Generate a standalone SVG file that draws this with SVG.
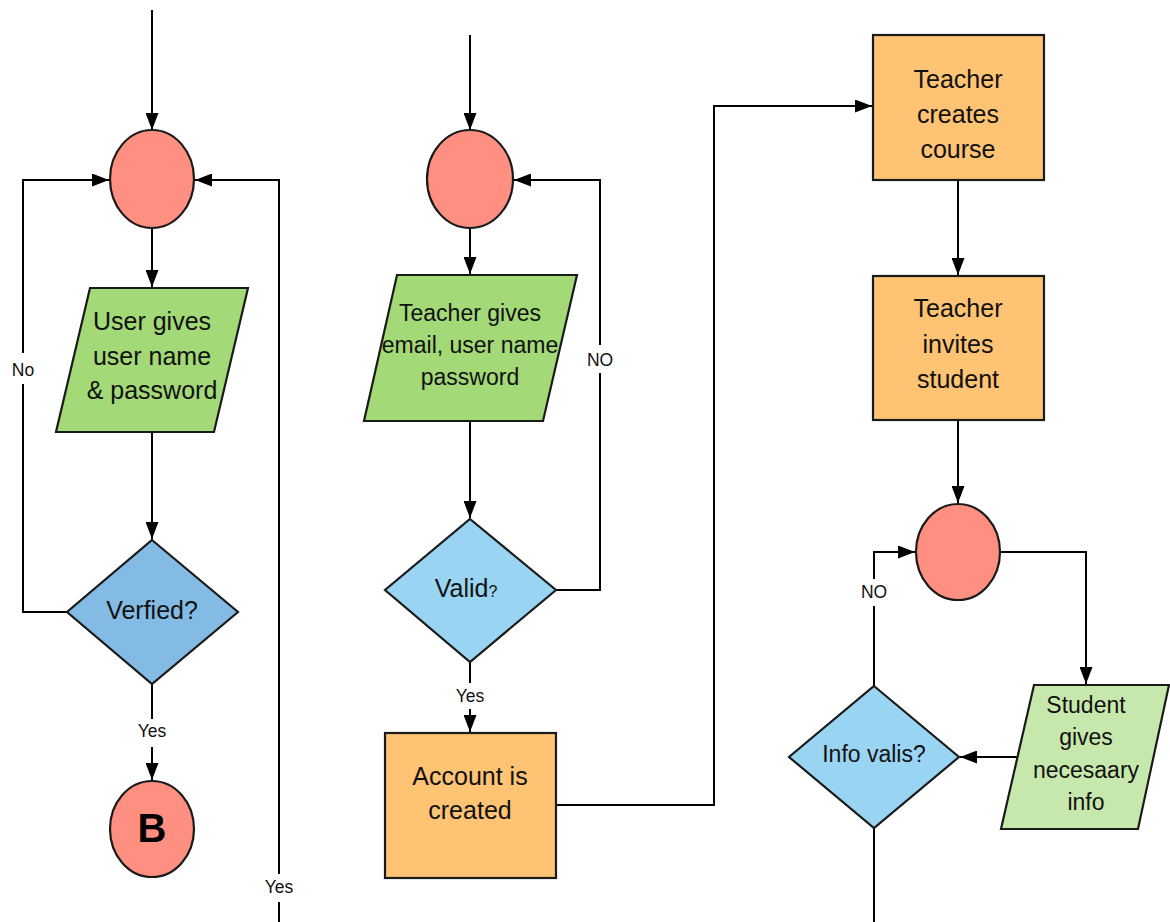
<svg xmlns="http://www.w3.org/2000/svg" width="1170" height="922" viewBox="0 0 1170 922">
  <style>
    .edge { fill: none; stroke: #000; stroke-width: 2; }
    .shape { stroke: #1a1a1a; stroke-width: 2.2; }
    .join { fill: #ff8f80; }
    .input { fill: #a3d977; }
    .input2 { fill: #c7e8ac; }
    .step { fill: #ffc374; }
    .check { fill: #83bbe5; }
    .check2 { fill: #99d5f2; }
    text { font-family: "Liberation Sans", Arial, sans-serif; fill: #111; text-anchor: middle; }
    .t25 { font-size: 25px; }
    .t23 { font-size: 23px; }
    .lbl { font-size: 17.5px; }
    .gap { fill: #fff; }
  </style>
  <defs>
    <marker id="arrow" markerUnits="userSpaceOnUse" markerWidth="17" markerHeight="13" refX="17" refY="6.5" orient="auto">
      <path d="M0,0 L17,6.5 L0,13 z" fill="#000"/>
    </marker>
  </defs>

  <!-- connectors -->
  <g id="connectors">
    <!-- left flow -->
    <path class="edge" d="M152,10 V130" marker-end="url(#arrow)"/>
    <path class="edge" d="M152,228 V287" marker-end="url(#arrow)"/>
    <path class="edge" d="M152,432 V539" marker-end="url(#arrow)"/>
    <path class="edge" d="M67,612 H23 V180 H109" marker-end="url(#arrow)"/>
    <path class="edge" d="M152,684 V780" marker-end="url(#arrow)"/>
    <path class="edge" d="M279,922 V180 H195" marker-end="url(#arrow)"/>
    <!-- middle flow -->
    <path class="edge" d="M470,35 V130" marker-end="url(#arrow)"/>
    <path class="edge" d="M470,228 V274" marker-end="url(#arrow)"/>
    <path class="edge" d="M470,421 V518" marker-end="url(#arrow)"/>
    <path class="edge" d="M556,590 H600 V180 H514" marker-end="url(#arrow)"/>
    <path class="edge" d="M470,662 V732" marker-end="url(#arrow)"/>
    <path class="edge" d="M556,805 H714 V106 H872" marker-end="url(#arrow)"/>
    <!-- right flow -->
    <path class="edge" d="M958,180 V275" marker-end="url(#arrow)"/>
    <path class="edge" d="M958,420 V503" marker-end="url(#arrow)"/>
    <path class="edge" d="M1001,552 H1086 V684" marker-end="url(#arrow)"/>
    <path class="edge" d="M1017,757 H960" marker-end="url(#arrow)"/>
    <path class="edge" d="M874,686 V552 H915" marker-end="url(#arrow)"/>
    <path class="edge" d="M874,828 V922"/>

    <!-- edge labels -->
    <rect class="gap" x="10" y="353" width="26" height="31"/>
    <text class="lbl" x="23" y="376">No</text>
    <rect class="gap" x="136" y="719" width="32" height="28"/>
    <text class="lbl" x="152" y="737">Yes</text>
    <rect class="gap" x="263" y="874" width="32" height="28"/>
    <text class="lbl" x="279" y="893">Yes</text>
    <rect class="gap" x="586" y="345" width="28" height="28"/>
    <text class="lbl" x="600" y="366">NO</text>
    <rect class="gap" x="454" y="683" width="32" height="26"/>
    <text class="lbl" x="470" y="702">Yes</text>
    <rect class="gap" x="860" y="579" width="28" height="27"/>
    <text class="lbl" x="874" y="598">NO</text>
  </g>

  <!-- left column -->
  <g id="join-left">
    <ellipse class="shape join" cx="152" cy="179" rx="42" ry="49"/>
  </g>
  <g id="user-login">
    <polygon class="shape input" points="90,288 248,288 214,432 56,432"/>
    <text class="t25" x="152" y="330">User gives</text>
    <text class="t25" x="152" y="365">user name</text>
    <text class="t25" x="152" y="399">&amp; password</text>
  </g>
  <g id="verified">
    <polygon class="shape check" points="152,540 238,612 152,684 67,612"/>
    <text class="t25" x="152" y="619">Verfied?</text>
  </g>
  <g id="connector-b">
    <ellipse class="shape join" cx="152" cy="829" rx="42" ry="48"/>
    <text x="152" y="842" style="font-size:40px;font-weight:bold;fill:#000">B</text>
  </g>

  <!-- middle column -->
  <g id="join-middle">
    <ellipse class="shape join" cx="470" cy="179" rx="43" ry="49"/>
  </g>
  <g id="teacher-signup">
    <polygon class="shape input" points="397,275 577,275 543,421 364,421"/>
    <text class="t23" x="470" y="321">Teacher gives</text>
    <text class="t23" x="470" y="353">email, user name</text>
    <text class="t23" x="470" y="385">password</text>
  </g>
  <g id="valid">
    <polygon class="shape check2" points="470,519 556,590 470,662 385,590"/>
    <text class="t25" x="466" y="597">Valid<tspan style="font-size:16px">?</tspan></text>
  </g>
  <g id="account-created">
    <rect class="shape step" x="385" y="733" width="171" height="145"/>
    <text class="t25" x="470" y="785">Account is</text>
    <text class="t25" x="470" y="819">created</text>
  </g>

  <!-- right column -->
  <g id="create-course">
    <rect class="shape step" x="873" y="35" width="171" height="145"/>
    <text class="t25" x="958" y="88">Teacher</text>
    <text class="t25" x="958" y="123">creates</text>
    <text class="t25" x="958" y="158">course</text>
  </g>
  <g id="invite-student">
    <rect class="shape step" x="873" y="276" width="171" height="144"/>
    <text class="t25" x="958" y="317">Teacher</text>
    <text class="t25" x="958" y="353">invites</text>
    <text class="t25" x="958" y="388">student</text>
  </g>
  <g id="join-right">
    <ellipse class="shape join" cx="958" cy="552" rx="42" ry="48"/>
  </g>
  <g id="student-info">
    <polygon class="shape input2" points="1034,685 1169,685 1138,829 1001,829"/>
    <text class="t23" x="1086" y="713">Student</text>
    <text class="t23" x="1086" y="745">gives</text>
    <text class="t23" x="1086" y="778">necesaary</text>
    <text class="t23" x="1086" y="810">info</text>
  </g>
  <g id="info-valid">
    <polygon class="shape check2" points="874,686 959,757 874,828 789,757"/>
    <text class="t23" x="874" y="762">Info valis?</text>
  </g>
</svg>
